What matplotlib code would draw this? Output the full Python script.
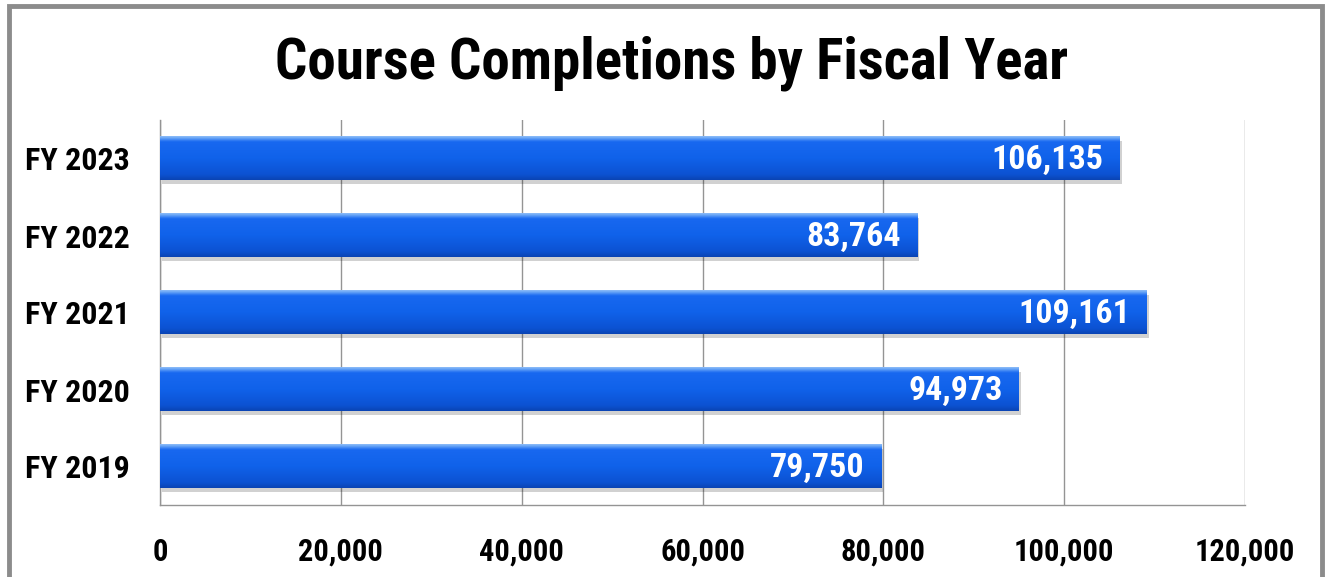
import numpy as np
import matplotlib
matplotlib.use("Agg")
import matplotlib.pyplot as plt
import matplotlib.transforms as mtransforms
from matplotlib.colors import LinearSegmentedColormap
from matplotlib.patches import Rectangle
from matplotlib.ticker import FuncFormatter

years = ["FY 2019", "FY 2020", "FY 2021", "FY 2022", "FY 2023"]
completions = [79750, 94973, 109161, 83764, 106135]
x_ticks = [0, 20000, 40000, 60000, 80000, 100000, 120000]

plt.rcParams['font.family'] = ['Roboto Condensed', 'DejaVu Sans']
plt.rcParams['font.stretch'] = 'condensed'
plt.rcParams['font.weight'] = 'bold'

fig = plt.figure(figsize=(13.27, 5.77), dpi=100)
ax = fig.add_axes([160 / 1327, 72 / 577, 1085 / 1327, 385 / 577])

# outer grey frame of the picture
fig.patches.append(Rectangle((9 / 1327, -0.05), 1313 / 1327, 1.05 - 6 / 577,
                             transform=fig.transFigure, fill=False,
                             edgecolor='#8c8c8c', linewidth=3.5, zorder=10))

ypos = np.arange(len(years))
bar_h = 0.57

# soft shadow under each bar
shadow = mtransforms.offset_copy(ax.transData, fig=fig, x=2, y=-4, units='dots')
ax.barh(ypos, completions, height=bar_h, color='#000000', alpha=0.18,
        transform=shadow, zorder=2)
ax.barh(ypos, completions, height=bar_h, color='#1464ea', zorder=3)

# vertical gradient to fake the 3D look
cmap = LinearSegmentedColormap.from_list('bar', [
    (0.0, '#0a44b4'), (0.12, '#0c52d2'), (0.5, '#1062ea'),
    (0.88, '#1868f0'), (0.95, '#5b9cf6'), (1.0, '#8cbcf8')])
grad = np.linspace(0, 1, 64).reshape(-1, 1)
for y, v in zip(ypos, completions):
    ax.imshow(grad, extent=[0, v, y - bar_h / 2, y + bar_h / 2], origin='lower',
              aspect='auto', cmap=cmap, zorder=4, interpolation='bicubic')
    ax.text(v - 1800, y - 0.02, f"{v:,}", ha='right', va='center', color='white',
            fontsize=24.5, fontweight='bold', zorder=5)

ax.set_xlim(0, 120000)
ax.set_ylim(-0.5, len(years) - 0.5)
ax.set_xticks(x_ticks)
ax.xaxis.set_major_formatter(FuncFormatter(lambda v, p: f"{int(v):,}"))
ax.set_yticks(ypos)
ax.set_yticklabels(years)
ax.tick_params(axis='x', length=0, pad=23, labelsize=22)
ax.tick_params(axis='y', length=0, pad=22, labelsize=23)

ax.grid(True, axis='x', color='#949494', linewidth=1.0, zorder=1)
ax.set_axisbelow(True)
for side in ['top', 'right']:
    ax.spines[side].set_visible(False)
ax.spines['left'].set_color('#949494')
ax.spines['bottom'].set_color('#949494')
ax.spines['left'].set_linewidth(1.0)
ax.spines['bottom'].set_linewidth(1.0)

fig.text(0.506, 0.89, "Course Completions by Fiscal Year", ha='center', va='center',
         fontsize=41, fontweight='bold')

fig.savefig("out.png", dpi=100)
